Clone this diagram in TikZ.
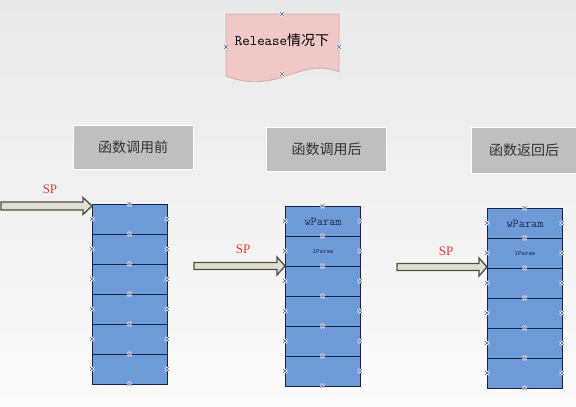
\documentclass[tikz,border=0pt]{standalone}
\usepackage{fontspec}
\setmainfont{Liberation Serif}
\newfontfamily\cjk{Noto Sans CJK SC}
\definecolor{bgtop}{HTML}{E8E8E8}
\definecolor{bgbot}{HTML}{FBFBFB}
\definecolor{docfill}{HTML}{F1C8C8}
\definecolor{docedge}{HTML}{D8A8A8}
\definecolor{grayfill}{HTML}{BFBFBF}
\definecolor{cellfill}{HTML}{6E9AD8}
\definecolor{celledge}{HTML}{16244A}
\definecolor{arrfill}{HTML}{DEDFCE}
\definecolor{arredge}{HTML}{4E5040}
\definecolor{sprED}{HTML}{E03A3A}
\definecolor{hcol}{HTML}{4A5A8A}
\definecolor{txtcol}{HTML}{1C2A50}
\tikzset{
  graybox/.style={fill=grayfill,draw=white,line width=0.8pt,minimum width=120pt,minimum height=44pt,inner sep=0pt,font=\cjk\fontsize{14}{16}\selectfont,text=black!80},
  cell/.style={fill=cellfill,draw=celledge,line width=1.1pt,minimum width=75pt,minimum height=30pt,inner sep=0pt,anchor=north west,text=txtcol},
  blockarrow/.style={fill=arrfill,draw=arredge,line width=1.3pt,line join=miter},
  splabel/.style={text=sprED,font=\fontsize{13}{15}\selectfont,inner sep=0pt},
  handle/.pic={\draw[white,line width=1.8pt] (-2,-2)--(2,2) (-2,2)--(2,-2);
               \draw[hcol,line width=0.6pt] (-2,-2)--(2,2) (-2,2)--(2,-2);}
}
\begin{document}
\begin{tikzpicture}[x=1pt,y=-1pt]
\useasboundingbox (0,0) rectangle (576,407);
\shade[top color=bgtop,bottom color=bgbot] (0,0) rectangle (576,407);

% title document shape
\draw[fill=docfill,draw=docedge,line width=0.8pt] (226,14) -- (339,14) -- (339,72)
   .. controls (300,56) and (278,96) .. (226,76) -- cycle;
\node[inner sep=0pt] (title) at (282,40) {{\ttfamily\fontsize{14.5}{16}\selectfont Release}{\cjk\fontsize{14}{16}\selectfont 情况下}};
\foreach \p in {(282,14),(226,47),(339,47),(282,74)} \pic at \p {handle};

% gray labels
\node[graybox] (b1) at (133,147) {函数调用前};
\node[graybox] (b2) at (326.5,149.5) {函数调用后};
\node[graybox,minimum width=106pt,minimum height=46pt] (b3) at (524,150) {函数返回后};

% stacks
\foreach \L/\T/\n in {92/204/a, 285/206/b, 487/208/c}{
  \foreach \i in {0,...,5}{
    \node[cell] (\n\i) at (\L,{\T+30*\i}) {};
  }
}
\node[text=txtcol,font=\ttfamily\fontsize{12}{13}\selectfont] (wp1) at (b0.center) {wParam};
\node[text=txtcol,font=\ttfamily\fontsize{6.5}{7}\selectfont] (lp1) at (b1.center) {lParam};
\node[text=txtcol,font=\ttfamily\fontsize{12}{13}\selectfont] (wp2) at (c0.center) {wParam};
\node[text=txtcol,font=\ttfamily\fontsize{6.5}{7}\selectfont] (lp2) at (c1.center) {lParam};

\foreach \L/\T in {92/204, 285/206, 487/208}{
  \foreach \k in {0,...,6} \pic at ({\L+37.5},{\T+30*\k}) {handle};
  \foreach \k in {0,...,5} {\pic at (\L,{\T+15+30*\k}) {handle}; \pic at ({\L+75},{\T+15+30*\k}) {handle};}
}

% block arrows
\coordinate (t1) at (1,206);
\coordinate (t2) at (194,266);
\coordinate (t3) at (397,267);
\coordinate (h1) at (92,206);
\coordinate (h2) at (285,266);
\coordinate (h3) at (487,267);
\draw[blockarrow] (1,202) -- (83,202) -- (83,197.5) -- (h1) -- (83,214.5) -- (83,210) -- (1,210) -- cycle;
\draw[blockarrow] (194,262.5) -- (277,262.5) -- (277,257) -- (h2) -- (277,275) -- (277,269.5) -- (194,269.5) -- cycle;
\draw[blockarrow] (397,263.5) -- (479,263.5) -- (479,258) -- (h3) -- (479,276) -- (479,270.5) -- (397,270.5) -- cycle;

\node[splabel] (sp1) at (50,189) {SP};
\node[splabel] (sp2) at (243,249) {SP};
\node[splabel] (sp3) at (446,251) {SP};
\end{tikzpicture}
\end{document}
